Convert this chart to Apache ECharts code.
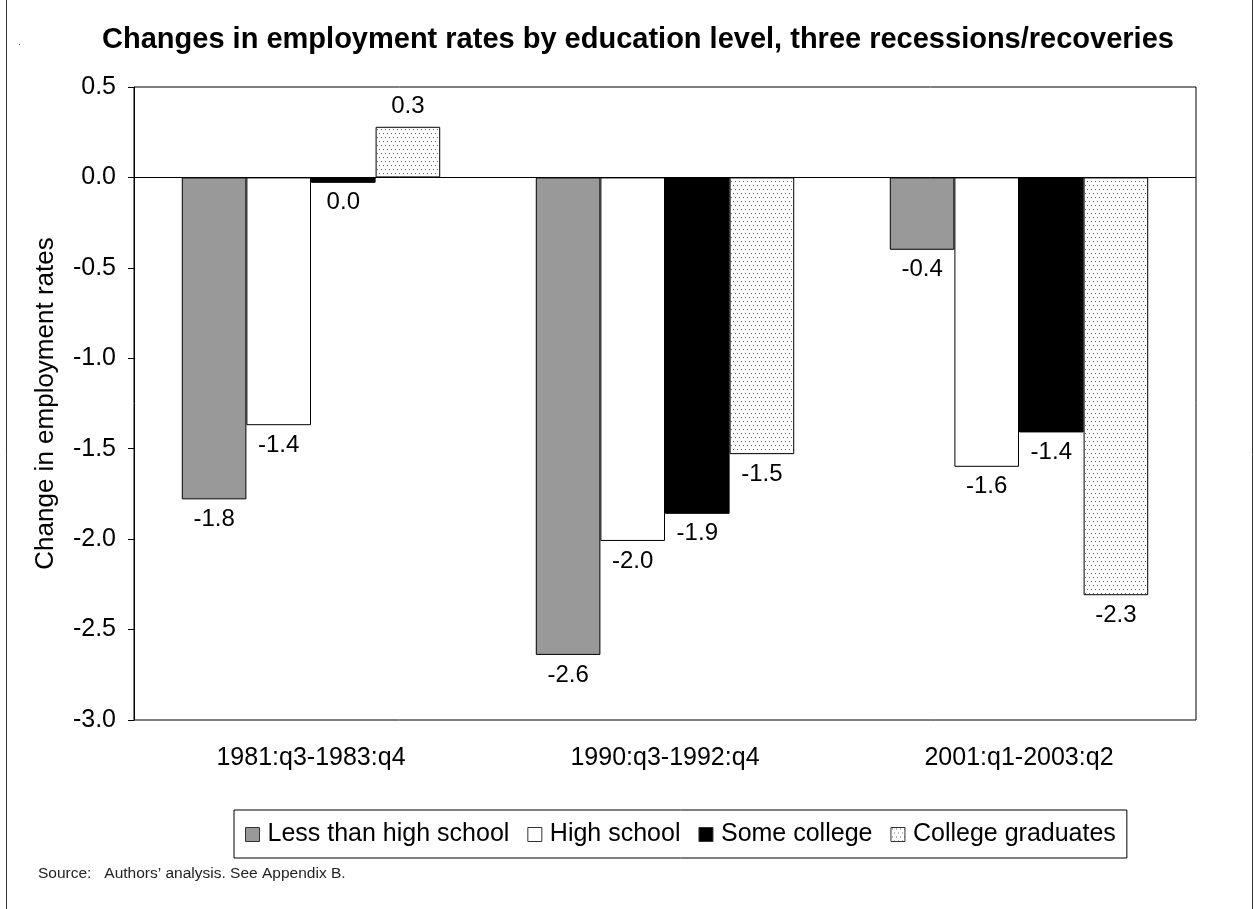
<!DOCTYPE html>
<html>
<head>
<meta charset="utf-8">
<script src="https://cdn.jsdelivr.net/npm/echarts@6/dist/echarts.min.js"></script>
<style>
  html, body { margin: 0; padding: 0; background: #fff; }
  #chart { width: 1254px; height: 909px; }
</style>
</head>
<body>
<div id="chart"></div>
<script>
// data
const periods = ['1981:q3-1983:q4', '1990:q3-1992:q4', '2001:q1-2003:q2'];
const lessThanHS = [-1.78, -2.64, -0.40];
const highSchool = [-1.37, -2.01, -1.60];
const someCollege = [-0.03, -1.86, -1.41];
const collegeGrads = [0.28, -1.53, -2.31];
const yTicks = { min: -3, max: 0.5, interval: 0.5 };

const FONT = '"Liberation Sans", Arial, sans-serif';

// dotted fill for college graduates
function dotPattern() {
  const c = document.createElement('canvas');
  c.width = 8; c.height = 8;
  const g = c.getContext('2d');
  g.fillStyle = '#fff';
  g.fillRect(0, 0, 8, 8);
  g.fillStyle = '#666';
  g.fillRect(1, 1, 1, 1);
  g.fillRect(5, 1, 1, 1);
  g.fillRect(3, 5, 1, 1);
  g.fillRect(7, 5, 1, 1);
  return c;
}
const dots = { image: dotPattern(), repeat: 'repeat' };

function fmt(v) {
  return Math.abs(v) < 0.05 ? '0.0' : v.toFixed(1);
}

function makeSeries(name, data, fill) {
  return {
    name: name,
    type: 'bar',
    data: data,
    barGap: '0%',
    barCategoryGap: '27%',
    itemStyle: { color: fill, borderColor: '#000', borderWidth: 1 },
    label: {
      show: true,
      position: 'outside',
      distance: 8,
      color: '#000',
      fontFamily: FONT,
      fontSize: 24,
      formatter: p => fmt(p.value)
    }
  };
}

const series = [
  makeSeries('Less than high school', lessThanHS, '#999999'),
  makeSeries('High school', highSchool, '#ffffff'),
  makeSeries('Some college', someCollege, '#000000'),
  makeSeries('College graduates', collegeGrads, dots)
];
series[0].markLine = {
  silent: true,
  symbol: 'none',
  label: { show: false },
  lineStyle: { color: '#000', width: 1, type: 'solid' },
  data: [{ yAxis: 0 }]
};

const chart = echarts.init(document.getElementById('chart'), null, { renderer: 'canvas' });
chart.setOption({
  animation: false,
  backgroundColor: '#fff',
  title: {
    text: 'Changes in employment rates by education level, three recessions/recoveries',
    left: 633,
    textAlign: 'center',
    top: 20,
    textStyle: { fontFamily: FONT, fontSize: 29, fontWeight: 'bold', color: '#000' }
  },
  grid: {
    left: 134, top: 87, right: 58, bottom: 189,
    show: true, borderColor: '#000', borderWidth: 1, backgroundColor: 'transparent'
  },
  legend: {
    left: 234,
    top: 810,
    padding: [12, 11, 11, 11],
    borderColor: '#000',
    borderWidth: 1,
    itemWidth: 14,
    itemHeight: 14,
    itemGap: 18,
    icon: 'rect',
    itemStyle: { borderColor: '#333', borderWidth: 1 },
    textStyle: { fontFamily: FONT, fontSize: 25, color: '#000', padding: [0, 0, 0, 3] },
    data: ['Less than high school', 'High school', 'Some college', 'College graduates']
  },
  xAxis: {
    type: 'category',
    data: periods,
    axisLine: { show: false, onZero: false },
    axisTick: { show: false },
    axisLabel: { margin: 26, color: '#000', fontFamily: FONT, fontSize: 25 }
  },
  yAxis: {
    type: 'value',
    min: yTicks.min,
    max: yTicks.max,
    interval: yTicks.interval,
    name: 'Change in employment rates',
    nameLocation: 'middle',
    nameGap: 75,
    nameTextStyle: { fontFamily: FONT, fontSize: 26, color: '#000' },
    axisLine: { show: true, lineStyle: { color: '#000', width: 1 } },
    axisTick: { show: true, length: 6, lineStyle: { color: '#000' } },
    splitLine: { show: false },
    axisLabel: {
      margin: 18, color: '#000', fontFamily: FONT, fontSize: 25,
      formatter: v => v.toFixed(1)
    }
  },
  series: series,
  graphic: [
    { type: 'line', shape: { x1: 6.5, y1: 0, x2: 6.5, y2: 909 }, style: { stroke: '#333', lineWidth: 1 } },
    { type: 'line', shape: { x1: 1252.5, y1: 0, x2: 1252.5, y2: 909 }, style: { stroke: '#333', lineWidth: 1 } },
    { type: 'rect', shape: { x: 19, y: 44, width: 1, height: 1 }, style: { fill: '#666' } },
    {
      type: 'text', left: 38, top: 866,
      style: { text: 'Source:   Authors\u2019 analysis. See Appendix B.', font: '15.5px ' + FONT, fill: '#222' }
    }
  ]
});
</script>
</body>
</html>
